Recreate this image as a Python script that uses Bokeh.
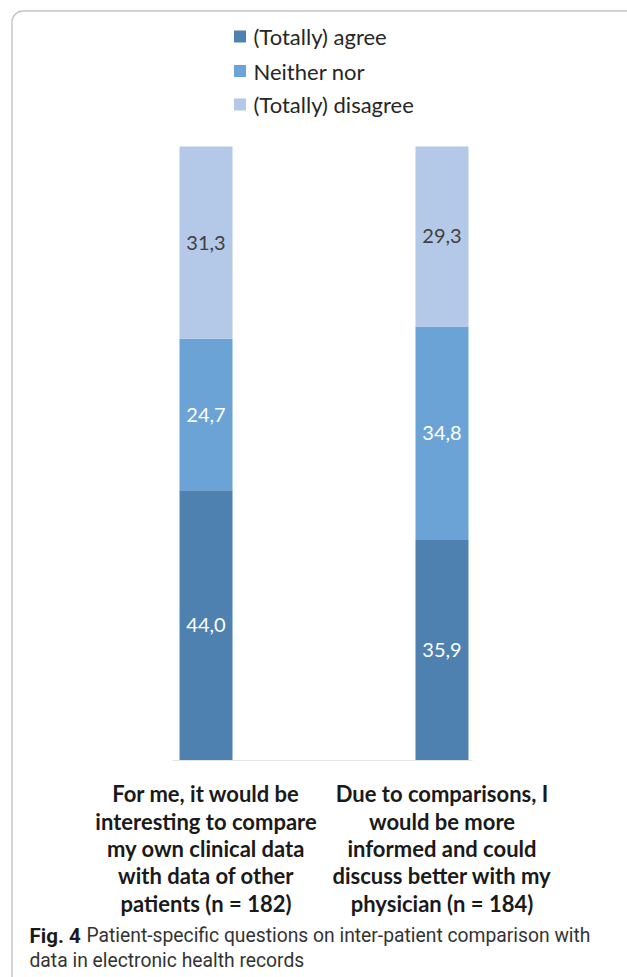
from bokeh.plotting import figure
from bokeh.models import Range1d, ColumnDataSource, BoxAnnotation
from bokeh.core.properties import value
from bokeh.embed import file_html
from bokeh.resources import INLINE

# ---- data -------------------------------------------------------------
questions = [
    "For me, it would be\ninteresting to compare\nmy own clinical data\nwith data of other\npatients (n = 182)",
    "Due to comparisons, I\nwould be more\ninformed and could\ndiscuss better with my\nphysician (n = 184)",
]
series = ["(Totally) agree", "Neither nor", "(Totally) disagree"]
agree = [44.0, 35.9]
neither = [24.7, 34.8]
disagree = [31.3, 29.3]

colors = ["#4F81B0", "#6BA3D6", "#B3C9E7"]
value_text_colors = ["#FFFFFF", "#FFFFFF", "#404040"]

caption_head = "Fig. 4"
caption_lines = [
    "Patient-specific questions on inter-patient comparison with",
    "data in electronic health records",
]

W, H = 627, 977
FONT = "Lato"
CAPTION_FONT = "Roboto"

# ---- layout: pixel anchors for the value / category scales -------------
X0, DX = 205.5, 236.0      # pixel of first category, pixels per category
Y0, DY = 760.0, 6.14       # pixel of 0 %, pixels per percent


def fx(px):
    return (px - X0) / DX


def fy(py):
    return (Y0 - py) / DY


p = figure(
    width=W, height=H,
    x_range=Range1d(fx(0), fx(W)), y_range=Range1d(fy(H), fy(0)),
    x_axis_type=None, y_axis_type=None,
    output_backend="svg", toolbar_location=None,
    min_border=0, outline_line_color=None,
    background_fill_color="white", border_fill_color="white",
)
p.grid.visible = False

# figure frame with rounded corner
p.add_layout(BoxAnnotation(
    left=fx(11.5), top=fy(10.5), right=fx(W + 40), bottom=fy(H + 40),
    fill_alpha=0, line_color="#3a3a3a", line_width=1.4, border_radius=11,
))

# ---- stacked bars -----------------------------------------------------
xs = list(range(len(questions)))
src = ColumnDataSource(dict(x=xs, agree=agree, neither=neither, disagree=disagree))
p.vbar_stack(["agree", "neither", "disagree"], x="x", width=53 / DX, source=src,
             color=colors, line_color=None)

# faint baseline
p.segment(x0=[fx(172)], y0=[0], x1=[fx(472)], y1=[0], line_color="#e4e4e4", line_width=1)

# value labels in the middle of each segment
lx, ly, lt, lc = [], [], [], []
for vals, tc, lower in zip([agree, neither, disagree], value_text_colors,
                           [[0, 0], agree, [a + n for a, n in zip(agree, neither)]]):
    for i, (v, b) in enumerate(zip(vals, lower)):
        lx.append(xs[i])
        ly.append(b + v / 2)
        lt.append(f"{v:.1f}".replace(".", ","))
        lc.append(tc)
p.text(x=lx, y=ly, text=lt, text_color=lc, text_align="center", text_baseline="middle",
       text_font=value(FONT), text_font_size="20px")

# ---- legend -----------------------------------------------------------
leg_y = [fy(36), fy(70.5), fy(104)]
p.scatter(x=[fx(239.5)] * 3, y=leg_y, marker="square", size=12, color=colors, line_color=None)
p.text(x=[fx(253)] * 3, y=leg_y, text=series, text_color="#262626",
       text_align="left", text_baseline="middle",
       text_font=value(FONT), text_font_size="22px")

# ---- category labels --------------------------------------------------
p.text(x=xs, y=[fy(848)] * 2, text=questions, text_color="#1a1a1a",
       text_align="center", text_baseline="middle", text_line_height=1.015,
       text_font=value(FONT), text_font_style="bold", text_font_size="22px")

# ---- caption ----------------------------------------------------------
p.text(x=[fx(29)], y=[fy(935)], text=[caption_head], text_color="#1a1a1a",
       text_align="left", text_baseline="middle",
       text_font=value(CAPTION_FONT), text_font_style="bold", text_font_size="20.5px")
p.text(x=[fx(86), fx(29)], y=[fy(935), fy(960)], text=caption_lines, text_color="#333333",
       text_align="left", text_baseline="middle",
       text_font=value(CAPTION_FONT), text_font_size="19.3px")

open("out.html", "w").write(file_html(p, INLINE))
